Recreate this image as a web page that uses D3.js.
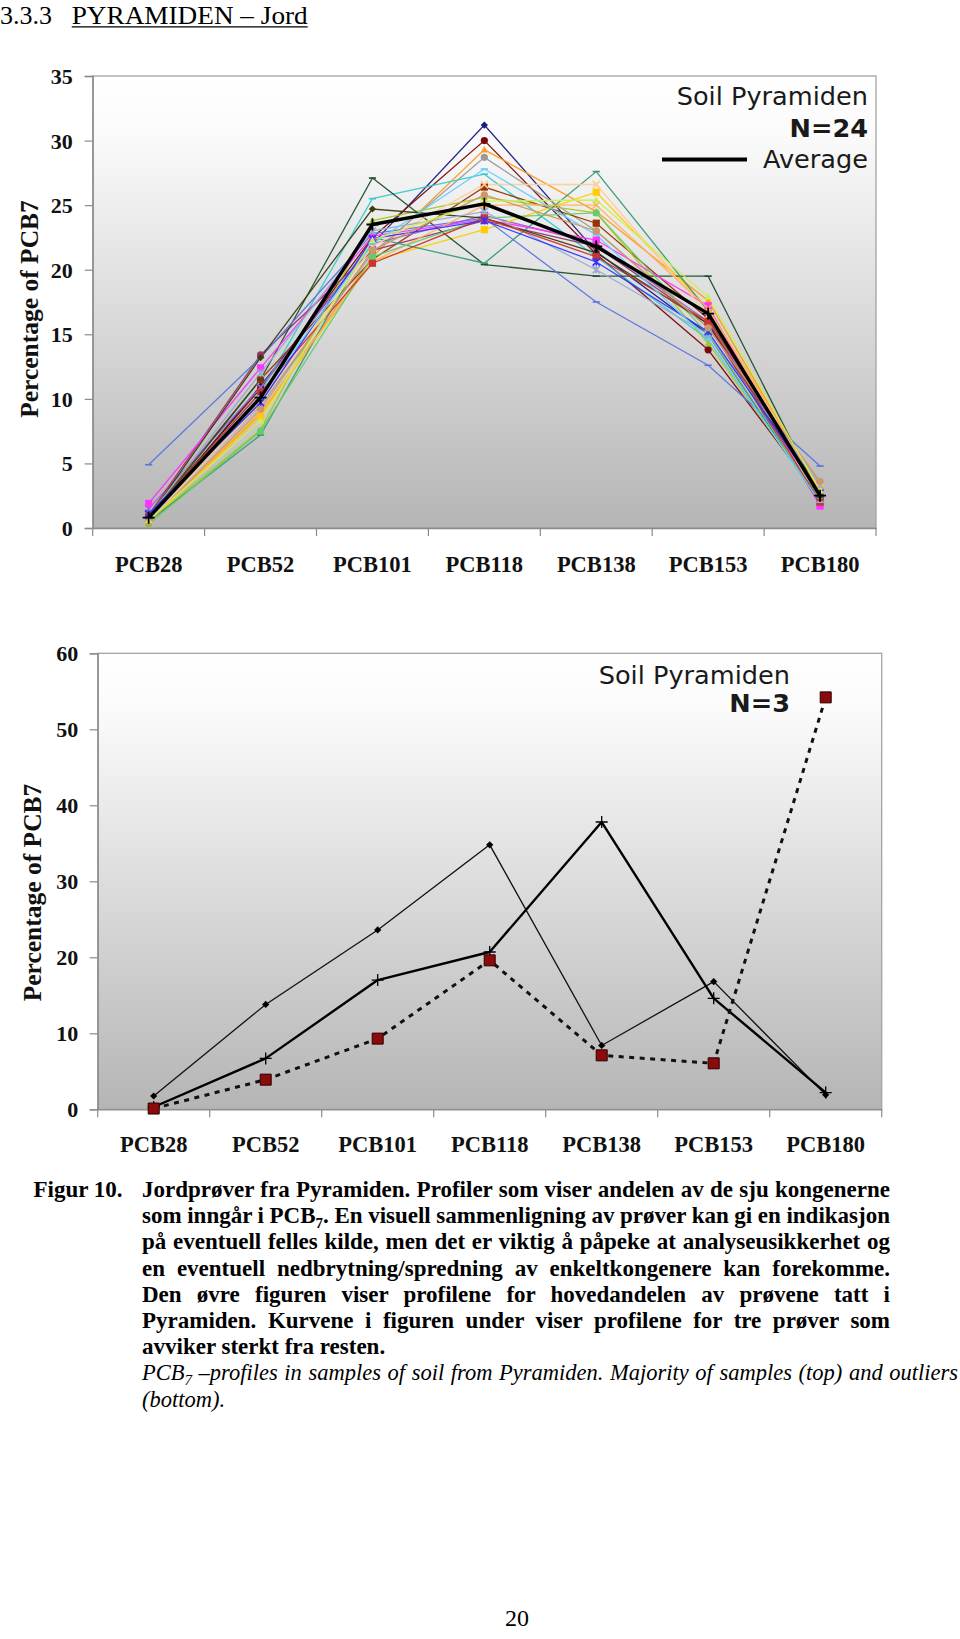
<!DOCTYPE html>
<html><head><meta charset="utf-8">
<script src="https://cdn.jsdelivr.net/npm/d3@7"></script>
<style>body{margin:0;background:#fff} svg{display:block}</style>
</head><body>
<svg id="page" width="960" height="1639"></svg>
<script>
// ---------------- DATA ----------------
const categories = ["PCB28","PCB52","PCB101","PCB118","PCB138","PCB153","PCB180"];
const topTicks = [0,5,10,15,20,25,30,35];
const bottomTicks = [0,10,20,30,40,50,60];

// 24 soil samples (top chart), % of PCB7
const samples = [
  [0.6, 11.0, 22.0, 31.2, 21.4, 15.0, 2.0],
  [0.8, 10.8, 22.5, 30.0, 21.2, 13.8, 2.3],
  [0.5,  8.8, 21.0, 29.3, 24.5, 17.6, 2.8],
  [0.7,  9.5, 21.3, 28.7, 23.0, 15.5, 3.5],
  [0.8, 10.5, 25.5, 27.4, 21.0, 14.6, 2.0],
  [0.9, 11.5, 20.8, 26.4, 23.6, 16.2, 2.7],
  [0.5,  7.6, 23.8, 25.6, 24.4, 14.3, 2.2],
  [1.5, 10.9, 22.0, 24.2, 22.0, 16.0, 2.6],
  [1.0, 13.4, 21.5, 23.8, 21.8, 15.8, 1.8],
  [0.4,  8.7, 20.7, 23.1, 26.0, 17.0, 3.0],
  [0.7, 11.5, 27.1, 20.4, 19.5, 19.5, 2.4],
  [0.5,  7.2, 22.5, 20.5, 27.6, 16.8, 2.3],
  [4.9, 13.2, 22.8, 24.0, 17.5, 12.6, 4.8],
  [1.9, 12.4, 22.6, 23.9, 22.3, 17.2, 1.7],
  [0.6,  9.6, 21.8, 26.6, 26.6, 16.5, 3.2],
  [0.5,  9.0, 20.6, 25.0, 25.0, 17.0, 3.0],
  [0.3,  7.5, 21.0, 24.0, 24.4, 15.0, 2.1],
  [0.8, 13.2, 24.7, 24.0, 21.3, 15.8, 2.5],
  [0.9, 12.0, 23.0, 24.5, 20.0, 15.0, 3.3],
  [0.9, 10.5, 20.5, 24.0, 21.0, 16.0, 2.0],
  [1.1,  9.7, 22.4, 23.8, 20.6, 15.2, 2.7],
  [0.6, 10.2, 22.0, 27.8, 22.7, 14.6, 2.0],
  [0.4,  9.2, 21.5, 25.8, 23.0, 15.5, 3.6],
  [0.6,  8.3, 22.3, 25.3, 25.4, 17.9, 2.9]
];
const average = [0.8, 10.1, 23.5, 25.1, 21.8, 16.6, 2.5];

// 3 outlier samples (bottom chart)
const outlierDiamond = [1.75, 13.8, 23.6, 34.8, 8.4, 16.8, 1.9];
const outlierPlus    = [0.3, 6.7, 17.0, 20.7, 37.8, 14.6, 2.2];
const outlierSquare  = [0.1, 3.9, 9.3, 19.6, 7.1, 6.05, 54.2];

// ---------------- STYLES ----------------
const sampleColors = ["#1a1a80","#7a0a0a","#ff9a1a","#9a9a9a","#33cccc","#993300","#a8c820","#9966cc",
  "#993366","#ffcc00","#1f4f2a","#339977","#5b73e0","#ff33ff","#ffcc99","#ffb060",
  "#66cc66","#3a3a10","#99aacc","#cc3333","#3333ff","#66ccff","#cc9966","#ccee55"];
const sampleMarkers = ["diamond","circle","triangle","circle","dash","square","triangle","x",
  "circle","square","dash","dash","dash","square","x","x",
  "circle","diamond","star","square","star","dash","circle","triangle"];

const svg = d3.select("#page");
const defs = svg.append("defs");
const grad = defs.append("linearGradient").attr("id","bg").attr("x1",0).attr("y1",0).attr("x2",0).attr("y2",1);
grad.append("stop").attr("offset","0%").attr("stop-color","#ffffff");
grad.append("stop").attr("offset","12%").attr("stop-color","#fbfbfb");
grad.append("stop").attr("offset","100%").attr("stop-color","#b5b5b5");

const SERIF = "'Liberation Serif','Times New Roman',serif";
const SANS = "'DejaVu Sans',Verdana,sans-serif";

function markerPath(type, s) {
  switch (type) {
    case "diamond": return `M0,${-s}L${s},0L0,${s}L${-s},0Z`;
    case "square": return `M${-s},${-s}H${s}V${s}H${-s}Z`;
    case "triangle": return `M0,${-s}L${s},${s*0.8}L${-s},${s*0.8}Z`;
    case "x": return `M${-s},${-s}L${s},${s}M${s},${-s}L${-s},${s}`;
    case "star": return `M${-s},${-s}L${s},${s}M${s},${-s}L${-s},${s}M0,${-s}V${s}`;
    case "plus": return `M${-s},0H${s}M0,${-s}V${s}`;
    case "dash": return `M${-s},0H${s}`;
    case "circle": return d3.symbol(d3.symbolCircle, Math.PI*s*s)();
  }
}
const filledTypes = new Set(["diamond","square","triangle","circle"]);

function drawMarker(g, type, x, y, color, s, strokeColor, sw) {
  const p = g.append("path").attr("d", markerPath(type, s)).attr("transform", `translate(${x},${y})`);
  if (filledTypes.has(type)) {
    p.attr("fill", color).attr("stroke", strokeColor || "none").attr("stroke-width", sw || 0);
  } else {
    p.attr("fill", "none").attr("stroke", strokeColor || color).attr("stroke-width", sw || 1.6);
  }
}

function makeChart(cfg) {
  const g = svg.append("g");
  const x = d3.scaleBand().domain(categories).range([cfg.left, cfg.right]);
  const y = d3.scaleLinear().domain([0, cfg.ymax]).range([cfg.bottom, cfg.top]);
  const cx = c => x(c) + x.bandwidth()/2;

  g.append("rect").attr("x", cfg.left).attr("y", cfg.top)
    .attr("width", cfg.right - cfg.left).attr("height", cfg.bottom - cfg.top)
    .attr("fill", "url(#bg)").attr("stroke", "#a3a3a3").attr("stroke-width", 1.3);

  const ya = g.append("g").attr("transform", `translate(${cfg.left},0)`)
    .call(d3.axisLeft(y).tickValues(cfg.ticks).tickSize(8).tickPadding(cfg.tickPad).tickFormat(d3.format("d")));
  ya.select(".domain").attr("stroke", "#8a8a8a").attr("stroke-width", 1.3);
  ya.selectAll(".tick line").attr("stroke", "#8a8a8a").attr("stroke-width", 1.2);
  ya.selectAll(".tick text").attr("font-family", SERIF).attr("font-weight", "bold")
    .attr("font-size", 22).attr("fill", "#111").attr("dy", "0.34em");

  const xa = g.append("g").attr("transform", `translate(0,${cfg.bottom})`)
    .call(d3.axisBottom(x).tickSize(0).tickPadding(0));
  xa.select(".domain").attr("stroke", "#8a8a8a").attr("stroke-width", 1.3);
  xa.selectAll(".tick text").attr("font-family", SERIF).attr("font-weight", "bold")
    .attr("font-size", 22.5).attr("fill", "#111").attr("y", cfg.labelDy).attr("dy", null);
  const bounds = categories.map(c => x(c)).concat([cfg.right]);
  g.selectAll("line.xt").data(bounds).join("line").attr("class", "xt")
    .attr("x1", d => d).attr("x2", d => d).attr("y1", cfg.bottom).attr("y2", cfg.bottom + 8)
    .attr("stroke", "#8a8a8a").attr("stroke-width", 1.2);

  g.append("text").attr("transform", `translate(${cfg.titleX},${cfg.titleY}) rotate(-90)`)
    .attr("text-anchor", "middle").attr("font-family", SERIF).attr("font-weight", "bold")
    .attr("font-size", 25.5).attr("fill", "#111").text("Percentage of PCB7");

  const line = d3.line().x((d, i) => cx(categories[i])).y(d => y(d));
  return { g, x, y, cx, line };
}

// ---------------- HEADER ----------------
svg.append("text").attr("x", 0).attr("y", 24).attr("font-family", SERIF).attr("font-size", 25.5)
  .attr("fill", "#000").attr("textLength", 52).attr("lengthAdjust", "spacingAndGlyphs").text("3.3.3");
svg.append("text").attr("x", 71.7).attr("y", 24).attr("font-family", SERIF).attr("font-size", 25.5)
  .attr("fill", "#000").attr("textLength", 236).attr("lengthAdjust", "spacingAndGlyphs").text("PYRAMIDEN – Jord");
svg.append("line").attr("x1", 71.7).attr("x2", 71.7 + 236).attr("y1", 26.8).attr("y2", 26.8)
  .attr("stroke", "#000").attr("stroke-width", 1.3);

// ---------------- TOP CHART ----------------
const topChart = makeChart({ left: 92.7, right: 876, top: 76, bottom: 528, ymax: 35, ticks: topTicks,
  tickPad: 12, labelDy: 43.7, titleX: 37.5, titleY: 309 });

samples.forEach((vals, k) => {
  topChart.g.append("path").attr("d", topChart.line(vals)).attr("fill", "none")
    .attr("stroke", sampleColors[k]).attr("stroke-width", 1.3).attr("opacity", 0.95);
});
samples.forEach((vals, k) => {
  vals.forEach((v, i) => drawMarker(topChart.g, sampleMarkers[k], topChart.cx(categories[i]), topChart.y(v), sampleColors[k], 3.6));
});
topChart.g.append("path").attr("d", topChart.line(average)).attr("fill", "none")
  .attr("stroke", "#000").attr("stroke-width", 3.4).attr("stroke-linejoin", "round");
average.forEach((v, i) => drawMarker(topChart.g, "plus", topChart.cx(categories[i]), topChart.y(v), "#000", 6, "#000", 1.8));

const LEG = 25.6;
const lg = topChart.g.append("g").attr("font-family", SANS).attr("fill", "#1a1a1a").attr("text-anchor", "end");
lg.append("text").attr("x", 868).attr("y", 105).attr("font-size", LEG).text("Soil Pyramiden");
lg.append("text").attr("x", 868).attr("y", 137).attr("font-size", LEG).attr("font-weight", "bold").text("N=24");
lg.append("text").attr("x", 868).attr("y", 168).attr("font-size", LEG).text("Average");
topChart.g.append("line").attr("x1", 662).attr("x2", 747).attr("y1", 159.5).attr("y2", 159.5)
  .attr("stroke", "#000").attr("stroke-width", 4);

// ---------------- BOTTOM CHART ----------------
const botChart = makeChart({ left: 97.7, right: 881.7, top: 653.3, bottom: 1109.3, ymax: 60, ticks: bottomTicks,
  tickPad: 11.5, labelDy: 42.7, titleX: 41, titleY: 892.5 });

botChart.g.append("path").attr("d", botChart.line(outlierDiamond)).attr("fill", "none")
  .attr("stroke", "#111").attr("stroke-width", 1.3);
botChart.g.append("path").attr("d", botChart.line(outlierPlus)).attr("fill", "none")
  .attr("stroke", "#000").attr("stroke-width", 2.4).attr("stroke-linejoin", "round");
botChart.g.append("path").attr("d", botChart.line(outlierSquare)).attr("fill", "none")
  .attr("stroke", "#111").attr("stroke-width", 3).attr("stroke-dasharray", "5,5.5");
outlierDiamond.forEach((v, i) => drawMarker(botChart.g, "diamond", botChart.cx(categories[i]), botChart.y(v), "#000", 3.6));
outlierPlus.forEach((v, i) => drawMarker(botChart.g, "plus", botChart.cx(categories[i]), botChart.y(v), "#000", 6, "#000", 1.3));
outlierSquare.forEach((v, i) => drawMarker(botChart.g, "square", botChart.cx(categories[i]), botChart.y(v), "#8b0a0a", 5.5, "#2a0000", 1));

const lg2 = botChart.g.append("g").attr("font-family", SANS).attr("fill", "#1a1a1a").attr("text-anchor", "end");
lg2.append("text").attr("x", 790).attr("y", 683.5).attr("font-size", LEG).text("Soil Pyramiden");
lg2.append("text").attr("x", 790).attr("y", 712).attr("font-size", LEG).attr("font-weight", "bold").text("N=3");

// ---------------- CAPTION ----------------
const capLeft = 142, capRight = 890, capBase = 1197, capStep = 26.2, capSize = 23;
const captionLines = [
  { segs: [{ t: "Jordprøver fra Pyramiden. Profiler som viser andelen av de sju kongenerne" }], justify: capRight },
  { segs: [{ t: "som inngår i PCB" }, { t: "7", sub: true }, { t: ". En visuell sammenligning av prøver kan gi en indikasjon" }], justify: capRight },
  { segs: [{ t: "på eventuell felles kilde, men det er viktig å påpeke at analyseusikkerhet og" }], justify: capRight },
  { segs: [{ t: "en eventuell nedbrytning/spredning av enkeltkongenere kan forekomme." }], justify: capRight },
  { segs: [{ t: "Den øvre figuren viser profilene for hovedandelen av prøvene tatt i" }], justify: capRight },
  { segs: [{ t: "Pyramiden. Kurvene i figuren under viser profilene for tre prøver som" }], justify: capRight },
  { segs: [{ t: "avviker sterkt fra resten." }] },
  { segs: [{ t: "PCB" }, { t: "7", sub: true }, { t: " –profiles in samples of soil from Pyramiden. Majority of samples (top) and outliers" }], italic: true, justify: 958 },
  { segs: [{ t: "(bottom)." }], italic: true }
];
svg.append("text").attr("x", 33.5).attr("y", capBase).attr("font-family", SERIF).attr("font-weight", "bold")
  .attr("font-size", capSize).attr("fill", "#000").text("Figur 10.");
captionLines.forEach((ln, i) => {
  const t = svg.append("text").attr("x", capLeft).attr("y", capBase + i * capStep)
    .attr("font-family", SERIF).attr("font-size", ln.italic ? 22.5 : capSize).attr("fill", "#000")
    .attr("font-weight", ln.italic ? "normal" : "bold").attr("font-style", ln.italic ? "italic" : "normal");
  let prevSub = false;
  ln.segs.forEach(s => {
    const ts = t.append("tspan").text(s.t);
    if (s.sub) { ts.attr("dy", 5).attr("font-size", 15); prevSub = true; }
    else if (prevSub) { ts.attr("dy", -5); prevSub = false; }
  });
  if (ln.justify) {
    const nat = t.node().getComputedTextLength();
    const full = ln.segs.map(s => s.t).join("");
    const nSp = (full.match(/ /g) || []).length;
    t.style("word-spacing", ((ln.justify - capLeft - nat) / nSp) + "px");
  }
});

svg.append("text").attr("x", 505).attr("y", 1626).attr("font-family", SERIF).attr("font-size", 24)
  .attr("fill", "#000").text("20");
</script>
</body></html>
